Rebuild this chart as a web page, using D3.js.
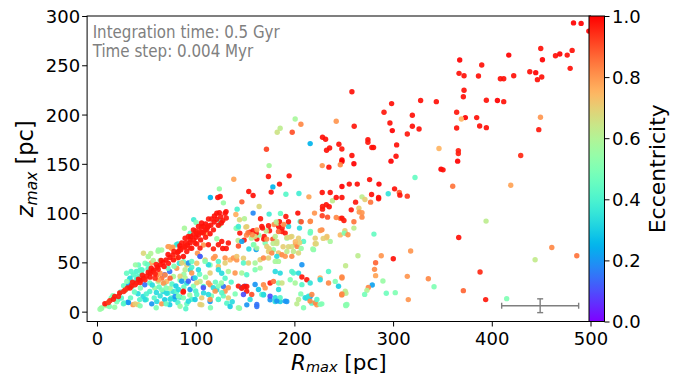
<!DOCTYPE html>
<html><head><meta charset="utf-8">
<script src="https://cdn.jsdelivr.net/npm/d3@7"></script>
<style>body{margin:0;background:#fff}svg{display:block}text{font-family:"DejaVu Sans",sans-serif}</style>
</head><body><svg id="c" width="683" height="376"></svg>
<script>
// [R_max (pc), z_max (pc), eccentricity]
const sparseHigh = [[482.8,293,1],[490.5,292.5,1],[498.3,284.7,1],[449.6,267,0.98],[451.3,255.6,1],[464.5,259.7,0.98],[468.9,261.4,1],[476.4,260.3,0.98],[481.4,265.1,0.98],[479.4,246.9,0.98],[438.5,243.5,0.98],[444.5,242.5,1],[446.2,235.4,0.98],[450.6,238.1,0.98],[417.2,260.3,1],[422.2,239.4,0.98],[408.7,236.4,0.98],[412.1,236.4,0.98],[389.8,250.3,0.98],[386.5,239.1,0.98],[367.5,255.3,1],[366.8,241.8,0.98],[371.9,239.4,0.98],[371.9,224.6,0.98],[371.2,218.1,0.98],[394.5,214.5,0.98],[405.7,214.2,1],[412.1,213.1,0.98],[258.3,223.2,0.98],[327.9,214.2,0.98],[343.8,213.1,0.98],[298.5,211.1,0.98],[290.8,202.3,0.97],[319.5,199.3,0.98],[364.4,202.3,0.97],[373.2,196.9,1],[369.2,195.5,0.75],[384.7,196.9,0.98],[387.7,188.4,0.98],[394.5,186.7,0.98],[364.4,186.4,0.98],[296.8,191.5,0.98],[299.2,183.7,1],[319.5,188.1,0.98],[326.3,185.4,0.98],[314.4,180.3,0.97],[260.6,188.1,0.97],[274.5,174.6,0.98],[274.5,171.9,0.97],[278.5,166.5,0.98],[280.2,166.5,0.98],[303.6,169.2,0.98],[258.3,158.4,0.98],[303,157.7,0.98],[346.5,165.5,0.75],[366.1,163.4,0.96],[366.1,160.4,0.96],[449.3,197.3,0.8],[447.6,184.7,0.97],[429.3,158.4,0.95],
[200.8,195.5,0.58],[185.6,186.1,0.62],[182.6,182.1,0.65],[206.6,190.1,0.82],[197.8,182.1,0.9],[242.4,193.2,0.8],[171.7,164.8,0.92],[216,170.5,0.25],[228.5,177,0.98],[231.6,175,0.98],[245.1,169.9,0.98],[248.1,165.1,0.97],[235.7,166.1,0.98],[232.6,163.8,0.98]];

const sparseRight = [[248.2,154,1],[248.2,152.3,1],[260.3,150,1],[297.9,152.7,1],[365.4,152.7,1],[246.5,149,0.82],[348.6,144.6,1],[350.6,143.9,0.98],[322.2,136.1,0.45],[360.4,127.3,0.85],[419.2,128.3,0.78],[248.2,127,1],[255.6,129.4,0.98],[263.7,129.4,0.98],[276.2,134,0.98],[285.7,129.4,1],[301.5,124.6,0.98],[306.3,120.9,0.88],[306.9,118.2,0.98],[314.4,117.2,0.93],[295.1,119.6,0.35],[285.3,115.8,0.98],[285.3,114.5,0.98],[278.2,118.8,0.98],[248.2,115.8,0.98],[268.5,116.5,0.62],[271.5,113.8,0.7],[262,111.1,0.97],[277.2,111.1,0.85],[265.4,105,0.7],[265.7,101,0.8],[268.5,100.4,0.8],[268.5,95.9,0.82],[257.6,103.3,0.97],[248.2,94.9,0.98],[250.2,92.5,0.97],[260.3,91.2,0.85],[260.3,84.8,0.62],[251.2,82.1,0.7],[250.5,79.7,0.5],[254.3,78,0.8],[280.6,78.7,0.45],[394.2,91.9,0.62],[366.5,75.3,0.98],[317.8,61.5,0.8],[460.8,65.1,0.82],[486.1,56.7,0.85],[443.9,52.7,0.63],[300.2,53.7,0.98],[288,56.7,0.8],[264.4,56.7,0.62],[251.9,46.6,0.63],[282.3,49.6,0.87],[281.2,42.9,0.82],[282.3,36.5,0.78],[248.2,35.1,0.82],[314.4,35.8,0.8],[335.7,33.4,0.82],[289.7,31.1,0.55],[388.1,40.2,0.95],[278.9,27,0.22],[274.9,24.6,0.82],[273.5,21.6,0.6],[271.2,17.5,0.48],[341.5,25.3,0.5],[302.2,19.3,0.5],[293.1,18.6,0.47],[371.2,21.3,0.87],[252.2,18.6,0.62],[248.2,17.9,0.82],[315.4,12.2,0.8],[393.8,12.2,0.97],[415.1,13.2,0.5],[252.2,6.1,0.52]];

const midUpper = [[235,146.6,0.98],[228.2,148.2,0.8],[174.4,148.2,0.58],[138.6,134.4,0.78],[173.7,137.1,0.97],[194.7,137.8,0.98],[178.2,126.6,0.25],[184.9,129.4,0.98],[176.5,121.3,0.98],[153.8,121.9,0.98],[158.2,117.8,0.98],[124,124.6,0.55],[114.9,115.8,0.25],[122.4,115.8,0.98],[124.8,116.8,0.98],[128.1,110.4,0.55],[146.8,111.4,0.88],[164.3,106.7,0.68],[142,104,0.4],[191.4,119.2,0.42],[204.6,119.9,0.38],[214.7,116.5,0.78],[228.2,120.9,0.98],[236.3,120.9,0.98],[238.6,112.5,0.62],[242.4,115.8,0.98],[232.3,108.4,0.98],[235.3,106.4,0.98],[228.5,106.7,0.97],[228.5,104,0.97],[220.4,100,0.8],[228.2,97.3,0.92],[233.6,95.9,0.9],[242.4,95.6,0.82],[246.7,94.6,0.85],[203.5,100,0.98],[191.4,96.6,0.97],[184.9,91.2,0.98],[194,91.2,0.98],[206.9,91.2,0.9],[216.3,91.9,0.82],[216.3,81.4,0.47],[226.2,82.4,0.8],[232.6,75,0.72],[229.2,74.3,0.7],[222.1,68.9,0.68],[218.7,63.5,0.55],[206.9,64.2,0.55],[205.3,69.9,0.7],[201,70.9,0.74],[196,75.7,0.7],[192.6,75.3,0.68],[197.4,65.9,0.66],[194,65.9,0.68],[188.6,65.9,0.7],[183.9,81.4,0.87],[187.6,84.8,0.97],[189.3,88.5,0.82],[179.5,88.5,0.82],[174.8,82.1,0.97],[171.5,81.8,0.62],[167.7,84.8,0.97],[169,73.6,0.97],[172,73.6,0.82],[174.4,63.8,0.7],[178.5,69.2,0.62],[182.2,69.2,0.65],[162,73.6,0.97],[164,77.6,0.55],[154.9,80.7,0.97],[158.2,82.1,0.97],[161.3,79.7,0.97],[151.5,77.6,0.82],[156.5,74.6,0.6],[159.9,76.3,0.68],[149.1,72.6,0.97],[143.3,66.6,0.9],[143,72.3,0.62],[144.7,79.7,0.97],[150.8,85.8,0.7],[149.4,94.2,0.6],[143,85,0.5],[144.4,93.2,0.68],[140.7,98.6,0.76],[158.2,100,0.18],[174.4,99,0.38],[165.7,94.2,0.97],[185.9,99.7,0.45],[181.6,90.9,0.62],[161.3,63.1,0.22],[153.9,63.5,0.33],[158.9,67.9,0.58],
[125.4,90.5,0.42],[143.3,86.4,0.38],[146.7,71.3,0.22],[158.5,67.9,0.5],[161.9,64.5,0.58],[162,83,0.8],[157.2,78,0.82],[153,80,0.85]];

const coreMixed = [[4.4,3.7,0.55],[9.5,6.1,0.58],[16.2,16.2,0.5],[14.5,13.8,0.5],[27,26.3,0.45],[33.1,33,0.38],[34.1,30,0.38],[32.1,27,0.2],[35.8,25.7,0.45],[29,22,0.55],[41.6,35.7,0.42],[45,39,0.45],[45,42.5,0.5],[39.9,40.8,0.4],[51.7,43.2,0.42],[55.1,49.4,0.78],[61.9,61.2,0.58],[72,66,0.8],[75.4,64.3,0.8],[80.5,67.9,0.38],[41.6,7.1,0.7],[36.5,7.1,0.8],[31.4,9.5,0.18],[27.4,8.8,0.42],[24.7,13.8,0.42],[17.9,4.4,0.55],[21.3,12.2,0.4],[41.6,18.1,0.33],[46.7,15.4,0.33],[43.3,12.2,0.42],[50,12.2,0.42],[53.5,20.5,0.4],[53.5,29,0.45],[58.5,23.9,0.55],[60.2,19.5,0.33],[61.9,30.6,0.58],[68.6,29,0.42],[67,20.5,0.33],[72,18.8,0.42],[68.6,12.2,0.3],[75.4,13.8,0.4],[77.1,20.5,0.35],[73.7,7.1,0.3],[78.8,12.2,0.3],[82.2,15.4,0.33],[48.4,27.3,0.15],[73.7,40.8,0.15],[68.6,37.4,0.12],
[4.8,3.5,0.55],[3.1,2.5,0.55],[9.9,7.9,0.82],[12.6,5.2,0.5],[26.8,7.9,0.42],[31.9,9.3,0.2],[38.6,7.9,0.7],[43.7,5.9,0.5],[48.7,12,0.33],[55.5,7.9,0.2],[60.6,10.3,0.33],[65.6,7.9,0.8],[74.1,12.6,0.33],[79.1,15.4,0.2],[84.2,14.7,0.33],[91,7.9,0.45],[96,12.6,0.4],[106.2,6.9,0.68],[114.6,10.3,0.2],[123,12.6,0.5],[131.5,8.6,0.42],[134.9,5.2,0.3],[144.4,3.5,0.5],[151.8,6.9,0.2],[161.9,5.2,0.15],[168.7,17,0.33],[175.4,12,0.2],[180.5,10.3,0.33],[185.6,10.3,0.3],[192.3,10.3,0.2],[202.5,7.9,0.62],[206.5,18,0.5],[216,15.4,0.2],[212.6,13.7,0.33],[222.7,6.9,0.8],[217.6,8.6,0.42],[227.8,7.9,0.5],[248,17,0.82],[252,6.9,0.52],
[98,93.4,0.38],[88.6,84.6,0.58],[100.4,90.4,0.5],[124.8,92,0.35],[124,87.6,0.55],[121.4,74,0.55],[111,79,0.75],[65.6,62.6,0.58],[62.3,62.6,0.55],[73.4,66,0.78],[76.8,65.4,0.8],[81.9,68.7,0.35],[94.4,79.5,0.42],[101.8,59.3,0.8],[107.9,67.7,0.8],[141,84.6,0.5],[151.8,86.3,0.7],[134.9,52.5,0.75],[141.6,52.5,0.8],[148.4,54.2,0.7],
[43.7,42.4,0.42],[42,47.4,0.45],[48.7,49.1,0.5],[52.1,55.9,0.58],[47.1,59.3,0.68],[36.9,37.3,0.42],[33.5,34,0.33],[30.2,30.6,0.5],[80.8,44.1,0.8],[83.5,49.1,0.35],[87.6,50.8,0.45],[91,47.4,0.7],[94.4,42.4,0.33],[101.1,49.1,0.72],[104.5,55.9,0.35],[109.6,52.5,0.7],[114.6,47.4,0.5],[118,54.2,0.8],[123,45.8,0.72],[126.4,39,0.33],[129.8,33.9,0.42],[77.5,35.6,0.58],[84.2,32.2,0.5],[91,28.9,0.33],[97.7,33.9,0.12],[104.5,30.6,0.62],[107.9,25.5,0.42],[114.6,27.2,0.8],[121.4,22.1,0.33],[128.1,25.5,0.15],[74.1,23.8,0.58],[80.8,20.5,0.42],[70.7,18.7,0.33],[65.6,22.1,0.5],
[52,56,0.58],[54.5,59,0.6],[39,47.5,0.55],[45.7,42.4,0.42],[34.6,40.7,0.42],[30,39,0.45],
[57.2,40.7,0.9],[60.6,37.3,0.85],[64,39,0.8],[65.6,34,0.85],[69,37.3,0.82],[62.3,32.2,0.78],[58.9,34,0.95],[70.7,30.6,0.75],[67.3,28.9,0.8],[74.1,34,0.88]];

const coreFill = [[38,20,0.45],[44,24,0.5],[50,18,0.4],[56,27,0.33],[63,25,0.45],[70,24,0.5],[76,28,0.42],[80,26,0.3],[58,14,0.42],[64,16,0.35],[70,8,0.45],[82,9,0.4],[88,25,0.45],[94,17,0.55],[100,21,0.4],[108,19,0.33],[116,16,0.5],[120,30,0.45],[126,29,0.55],[136,30,0.42],[140,18,0.5],[137,10,0.33],[110,35,0.55],[104,38,0.45],[96,45,0.4],[88,38,0.55],[78,46,0.5],[72,44,0.45],[64,52,0.55],[57,52,0.6],[51,48,0.45],[36,30,0.5],[40,33,0.4],[24,20,0.42],[20,10,0.5],[34,14,0.45],[60,4,0.5],[90,3,0.42],[115,4,0.5],[128,16,0.45]];

const coreRight = [[80.8,54.4,0.8],[85.9,49.3,0.7],[92.6,49.3,0.2],[96,51,0.45],[104.4,56.1,0.1],[112.9,47.6,0.33],[109.5,51,0.5],[123,51,0.42],[119.7,56.1,0.8],[129.8,54.4,0.8],[138.2,54.4,0.8],[141.6,56.1,0.72],[148.4,49.3,0.42],[153.5,49.3,0.7],[160.2,49.3,0.58],[165.3,52.7,0.7],[129.8,49.3,0.7],[133.1,40.8,0.58],[139.9,39.2,0.8],[146.7,39.2,0.58],[151.7,37.5,0.42],[160.2,42.5,0.5],[165.3,44.2,0.58],[123,42.5,0.33],[114.6,39.2,0.7],[102.8,42.5,0.33],[89.3,42.5,0.62],[84.2,36,0.7],[89.3,34.3,0.6],[96,39.2,0.8],[99.4,34.3,0.33],[92.6,30.9,0.12],[85.9,30.9,0.2],
[82.5,22.5,0.33],[87.6,20.8,0.97],[94.3,22.5,0.2],[97.7,25.9,0.5],[101.1,29.2,0.7],[107.8,24.2,0.1],[112.9,29.2,0.8],[117.9,24.2,0.33],[119.7,20.8,0.8],[123,25.9,0.5],[129.8,20.8,0.8],[133.1,24.2,0.8],[143.3,25.9,0.97],[146.7,24.2,0.15],[150,25.9,0.12],[151.7,20.8,0.97],[148.4,17.4,0.1],[156.8,17.4,0.9],[160.2,27.6,0.2],[163.6,22.5,0.28],[167,17.4,0.42],[161.9,7.2,0.15],[155.1,12.3,0.33],[143.3,3.9,0.55],[133.1,14,0.7],[126.4,19.1,0.42],[123,12.3,0.4],[114.6,12.3,0.8],[112.9,17.4,0.33],[106.1,14,0.7],[101.1,17.4,0.42],[99.4,12.3,0.3],[92.6,10.6,0.33],[87.6,14,0.5],[82.5,15.7,0.5],[104.4,7.2,0.7],[84.2,5.5,0.55],
[167,86.5,0.97],[173.8,87.1,0.97],[184,86.5,0.98],[187.4,81.4,0.97],[190.7,79.7,0.97],[194.1,86.5,0.33],[182.2,89.8,0.58],[205.9,91.5,0.42],[205.2,84.8,0.33],[216,91.5,0.82],[169.4,76.3,0.97],[178.2,73.6,0.9],[180.6,76.3,0.62],[182.2,71.3,0.65],[192.4,74.6,0.55],[197.4,76.3,0.68],[204.2,74.6,0.7],[209.3,71.3,0.42],[216,79.7,0.45],[221.1,74.6,0.7],[227.9,83,0.82],[233,76.3,0.72],[236.3,71.3,0.58],[246.5,77.9,0.74],[251.5,79.7,0.82],[170.4,69.6,0.5],[172.1,66.2,0.7],[201,68,0.8],[202.8,66.2,0.82],[221.1,68.9,0.72],[219.4,62.9,0.5],[173.8,61.1,0.7],[178.8,62.9,0.55],[183.9,59.5,0.72],[192.4,61.1,0.62],[199.1,61.1,0.62],[204.2,59.5,0.68],[177.1,59.5,0.82],[187.4,57.8,0.82],[168.7,54.4,0.82],[173.8,54.4,0.7],[182.2,56.1,0.33],[180.6,51,0.58],[183.9,51,0.58],[190.7,56.1,0.8],[197.4,56.1,0.82],[207.6,47.6,0.2],[180.6,40.8,0.33],[185.6,39.1,0.33],[197.4,40.8,0.4],[199.1,39.1,0.4],[204.2,39.1,0.33],[207.6,35.1,0.97],[212.6,32.4,0.97],[216,29.1,0.35],[226.1,34.1,0.76],[226.1,32.4,0.33],[234.6,40.8,0.42],[248.2,34.1,0.82],[241.4,30.7,0.5],[234.6,29.1,0.82],[244.7,25.7,0.3],[251.5,20.7,0.62],[248.2,17.3,0.82],[253.2,7.2,0.52],[195.8,32.4,0.5],[200.8,29.1,0.58],[207.6,27.4,0.42],[184,29.1,0.5],[187.4,29.1,0.65],[175.4,29.1,0.97],[178.8,30.7,0.85],[168.7,27.4,0.82],[170.4,24.1,0.8],[184,22.4,0.33],[168.7,17.4,0.33],[175.4,15.7,0.1],[180.6,14.1,0.33],[185.6,14.1,0.42],[182.2,10.7,0.2],[190.7,10.7,0.2],[204.2,12.4,0.62],[210.9,14.1,0.33],[214.3,15.7,0.35],[215.9,10.7,0.82],[221.1,9.1,0.82],[217.7,17.4,0.82],[222.8,12.4,0.42],[226.1,7.4,0.5],[209.3,4,0.5]];

const redBand = [[8,8,0.97],[13,11,0.95],[18,15.5,0.97],[23,19,0.97],[27,20.5,0.95],[31,24,0.97],[35,26,0.97],[40,29,0.98],[44,31.6,0.97],[47,34,0.98],[50,36,0.97],[54,39,0.98],[57,42,0.97],[61,45,0.98],[64,47.5,0.98],[67,50,0.97],[70,52.5,0.98],[74,55,0.98],[77,57.6,0.97],[81.5,60,0.98],[85,62.7,0.98],[88.6,65.4,0.97],[91.6,67.7,0.98],[94.4,70,0.98],[97.7,72.8,0.97],[100.4,75.5,0.98],[102.8,77.9,0.98],[106,80.3,0.97],[109.6,83,0.98],[112,85.7,0.98],[115.3,87.7,0.97],[118.7,91,0.98],[121.4,93.7,0.98],[125.4,96.4,0.97],[129.8,99.8,0.98],[127.5,92.4,0.97],[123,87.7,0.98],[118,83,0.97],[114.6,79,0.98],[110,75.5,0.97],[105,72.8,0.98],[101,68.7,0.97],[96,64.3,0.98],[91,61,0.97],[87.6,56,0.98],[82.5,55,0.97],[77.5,52.5,0.98],[72.4,49,0.97],[68,45.8,0.98],[62,43,0.97],[59,38.4,0.96],[53.8,35,0.97],[48.7,32.3,0.96],[43.7,29.6,0.97],[38.6,27.2,0.96],[33.5,24,0.97],[28.5,22,0.95],[21.7,15.4,0.96],[16.6,12.6,0.97],[11.6,9.3,0.93],
[121.4,99.8,0.98],[124,100.5,0.98],[130.8,101.5,0.98],[126,90,0.98],[131,95,0.97],[116,94,0.97],[110,89,0.98],[106,86,0.97],
[131,64,0.97],[127.4,64,0.98],[118,63.7,0.96],[149,25.5,0.97],[151.8,25.5,0.98],[146.7,23.8,0.97],[87.3,19.8,0.97],
[85.9,69.6,0.97],[89.3,74.6,0.97],[94.3,73,0.97],[97.7,78,0.97],[101,79.7,0.97],[104.4,81.4,0.97],[107.8,79.7,0.97],[111.2,83,0.97],[112.9,87,0.97],[107.8,86.4,0.97],[102.8,86.4,0.97],[97.7,83,0.97],[92.6,76.3,0.97],[89.3,66.2,0.97],[94.3,64.5,0.97],[82.5,61.1,0.97],[84.2,64.5,0.97],[99.4,69.6,0.97],[104.4,64.5,0.97],[112.9,67.9,0.97],[123,67.9,0.97],[126.4,71.3,0.97],[133.1,69.6,0.97],
[36,30,0.97],[42,33,0.98],[46,37,0.97],[52,40,0.97],[55,44,0.98],[60,48,0.97],[65,52,0.98],[72,58,0.98],[78,61,0.97],[84,67,0.98],[90,70,0.97],[95,76,0.98],[100,82,0.97],[106,90,0.98],[113,94,0.97],[119,97,0.98]];

const xTicks = [0,100,200,300,400,500];
const yTicks = [0,50,100,150,200,250,300];
const cTicks = [0,0.2,0.4,0.6,0.8,1.0];
const errBar = {r:449, z:6, dr:39, dz:7};
const notes = ["Integration time: 0.5 Gyr","Time step: 0.004 Myr"];

function rainbow(t){
  const cl=v=>Math.max(0,Math.min(1,v));
  const r=cl(Math.abs(2*t-0.5)), g=cl(Math.sin(Math.PI*t)), b=cl(Math.cos(Math.PI*t/2));
  return d3.rgb(r*255,g*255,b*255).formatHex();
}

const svg=d3.select("#c");
svg.append("rect").attr("width",683).attr("height",376).attr("fill","#fff");
const L=87.1,R=590.5,T=16,B=321.5;
const x=d3.scaleLinear([-10,500],[L,R]);
const y=d3.scaleLinear([-10,300],[B,T]);

svg.append("defs").append("clipPath").attr("id","pc").append("rect")
  .attr("x",L).attr("y",T).attr("width",R-L).attr("height",B-T);

const all=[...coreMixed,...coreFill,...coreRight,...midUpper,...redBand,...sparseRight,...sparseHigh];
svg.append("g").attr("clip-path","url(#pc)").selectAll("circle").data(all).join("circle")
  .attr("cx",d=>x(d[0])).attr("cy",d=>y(d[1])).attr("r",2.7)
  .attr("fill",d=>rainbow(d[2])).attr("fill-opacity",0.92);

// error bar
const eb=svg.append("g").attr("stroke","#7f7f7f").attr("stroke-width",1.4).attr("fill","none");
eb.append("line").attr("x1",x(errBar.r-errBar.dr)).attr("x2",x(errBar.r+errBar.dr)).attr("y1",y(errBar.z)).attr("y2",y(errBar.z));
eb.append("line").attr("x1",x(errBar.r)).attr("x2",x(errBar.r)).attr("y1",y(errBar.z-errBar.dz)).attr("y2",y(errBar.z+errBar.dz));
[errBar.r-errBar.dr,errBar.r+errBar.dr].forEach(v=>eb.append("line").attr("x1",x(v)).attr("x2",x(v)).attr("y1",y(errBar.z)-3).attr("y2",y(errBar.z)+3));
[errBar.z-errBar.dz,errBar.z+errBar.dz].forEach(v=>eb.append("line").attr("x1",x(errBar.r)-3).attr("x2",x(errBar.r)+3).attr("y1",y(v)).attr("y2",y(v)));

// frame
svg.append("rect").attr("x",L).attr("y",T).attr("width",R-L).attr("height",B-T)
  .attr("fill","none").attr("stroke","#000").attr("stroke-width",1);

// axes
const fs="18px";
const gx=svg.append("g").attr("transform",`translate(0,${B})`)
  .call(d3.axisBottom(x).tickValues(xTicks).tickSize(5).tickFormat(d3.format("d")));
gx.select(".domain").remove();
gx.selectAll("text").attr("y",23.5).attr("dy",0).attr("font-size",fs).attr("font-family","DejaVu Sans");
const gy=svg.append("g").attr("transform",`translate(${L},0)`)
  .call(d3.axisLeft(y).tickValues(yTicks).tickSize(5).tickFormat(d3.format("d")));
gy.select(".domain").remove();
gy.selectAll("text").attr("x",-7).attr("dy","0.36em").attr("font-size",fs).attr("font-family","DejaVu Sans");

// annotation
notes.forEach((t,i)=>svg.append("text").attr("x",92.7).attr("y",37.7+i*19)
  .attr("fill","#808080").attr("font-size","17.5px")
  .style("font-family","'Liberation Sans Narrow','DejaVu Sans Condensed',sans-serif")
  .attr("textLength",i==0?187:160.6).attr("lengthAdjust","spacingAndGlyphs").text(t));

// axis labels
const xl=svg.append("text").attr("x",(L+R)/2).attr("y",369.5).attr("text-anchor","middle").attr("font-size","21.5px");
xl.append("tspan").attr("font-style","italic").text("R");
xl.append("tspan").attr("font-style","italic").attr("font-size","14.5px").attr("dy",2.5).text("max");
xl.append("tspan").attr("dy",-2.5).text(" [pc]");
const yl=svg.append("text").attr("transform",`translate(33,${(T+B)/2}) rotate(-90)`).attr("text-anchor","middle").attr("font-size","22.5px");
yl.append("tspan").attr("font-style","italic").text("z");
yl.append("tspan").attr("font-style","italic").attr("font-size","15.5px").attr("dy",4).text("max");
yl.append("tspan").attr("dy",-4).text(" [pc]");

// colorbar
const cx0=589,cx1=604.5;
const cy=d3.scaleLinear([0,1],[B,T]);
const grad=svg.select("defs").append("linearGradient").attr("id","cg").attr("x1",0).attr("y1",1).attr("x2",0).attr("y2",0);
d3.range(0,1.0001,0.02).forEach(t=>grad.append("stop").attr("offset",t).attr("stop-color",rainbow(t)));
svg.append("rect").attr("x",cx0).attr("y",T).attr("width",cx1-cx0).attr("height",B-T).attr("fill","url(#cg)")
  .attr("stroke","#000").attr("stroke-width",1);
const gc=svg.append("g").attr("transform",`translate(${cx1},0)`)
  .call(d3.axisRight(cy).tickValues(cTicks).tickSize(5).tickFormat(d3.format(".1f")));
gc.select(".domain").remove();
gc.selectAll("text").attr("x",7.5).attr("dy","0.36em").attr("font-size",fs).attr("font-family","DejaVu Sans");
svg.append("text").attr("transform",`translate(665,${(T+B)/2}) rotate(-90)`).attr("text-anchor","middle")
  .attr("font-size","22px").text("Eccentricity");
</script></body></html>
